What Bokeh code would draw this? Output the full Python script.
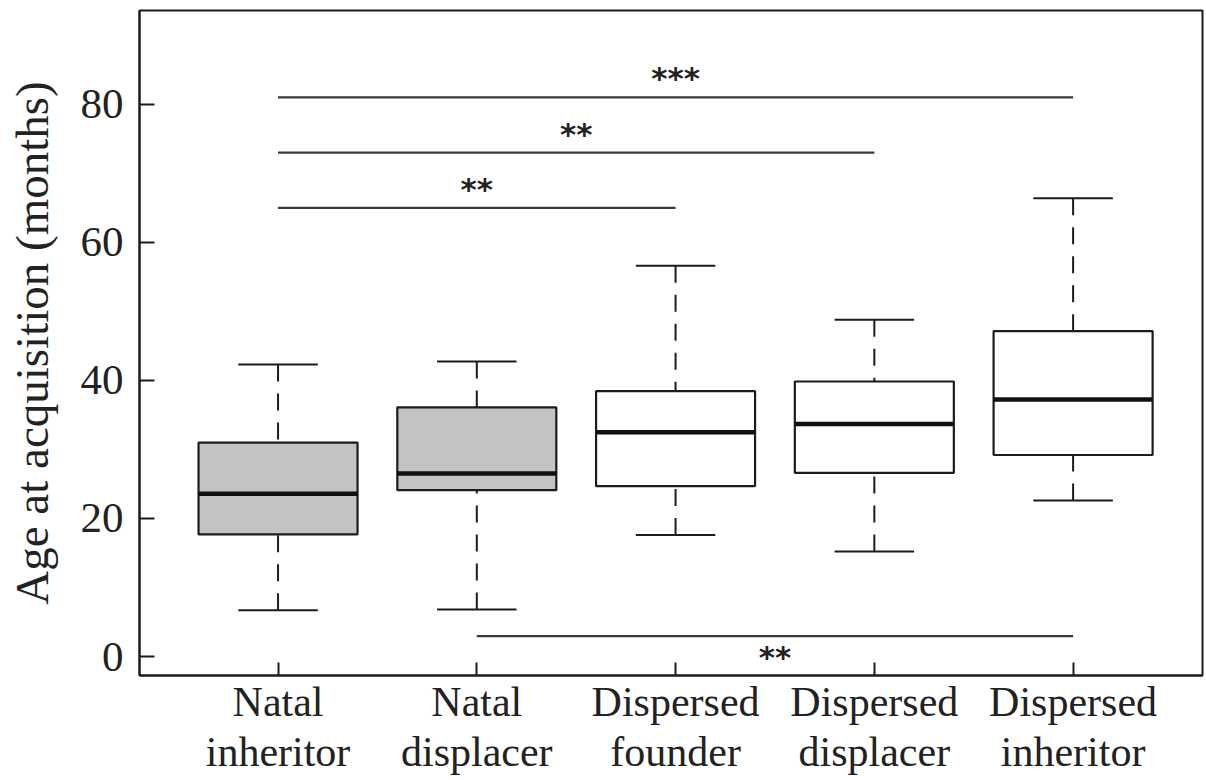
from bokeh.plotting import figure
from bokeh.models import ColumnDataSource, FixedTicker, Range1d
from bokeh.embed import file_html
from bokeh.resources import INLINE
from bokeh.core.properties import value

# ---- data ----
categories = ["Natal\ninheritor", "Natal\ndisplacer", "Dispersed\nfounder",
              "Dispersed\ndisplacer", "Dispersed\ninheritor"]
origin = ["Natal", "Natal", "Dispersed", "Dispersed", "Dispersed"]
lower_whisker = [6.7, 6.8, 17.6, 15.2, 22.6]
q1 = [17.7, 24.1, 24.7, 26.6, 29.2]
median = [23.6, 26.5, 32.5, 33.7, 37.25]
q3 = [31.0, 36.1, 38.45, 39.85, 47.15]
upper_whisker = [42.3, 42.75, 56.6, 48.8, 66.4]

# significance brackets: from group index, to group index, level, label
sig_from = [0, 0, 0, 1]
sig_to = [4, 3, 2, 4]
sig_level = [81.0, 73.0, 65.0, 2.95]
sig_label = ["***", "**", "**", "**"]
sig_side = ["above", "above", "above", "below"]

y_ticks = [0, 20, 40, 60, 80]

# ---- styling ----
FILL = {"Natal": "#c3c3c5", "Dispersed": "#ffffff"}
INK = "#1c1c1c"
SERIF = "Liberation Serif"
BOX_W = 0.8
CAP_HALF = 0.2

xs = list(range(1, len(categories) + 1))
src = ColumnDataSource(dict(
    x=xs, lw=lower_whisker, q1=q1, med=median, q3=q3, uw=upper_whisker,
    fill=[FILL[o] for o in origin],
    cap0=[x - CAP_HALF for x in xs], cap1=[x + CAP_HALF for x in xs],
    m0=[x - BOX_W / 2 for x in xs], m1=[x + BOX_W / 2 for x in xs],
))

p = figure(width=1204, height=778, output_backend="svg", toolbar_location=None,
           x_range=Range1d(0.303, 5.651), y_range=Range1d(-2.75, 93.6),
           min_border_left=139, min_border_top=10, min_border_right=2,
           min_border_bottom=90)
p.background_fill_color = "white"
p.border_fill_color = "white"
p.outline_line_color = INK
p.outline_line_width = 2
p.xgrid.visible = False
p.ygrid.visible = False

# whiskers (dashed), drawn from the cap toward the box
p.segment(x0="x", y0="uw", x1="x", y1="q3", source=src, line_color=INK,
          line_width=2, line_dash="17 12")
p.segment(x0="x", y0="lw", x1="x", y1="q1", source=src, line_color=INK,
          line_width=2, line_dash="17 12")
# caps
p.segment(x0="cap0", y0="uw", x1="cap1", y1="uw", source=src, line_color=INK, line_width=2)
p.segment(x0="cap0", y0="lw", x1="cap1", y1="lw", source=src, line_color=INK, line_width=2)
# boxes
p.vbar(x="x", width=BOX_W, bottom="q1", top="q3", source=src, fill_color="fill",
       line_color=INK, line_width=2.2)
# medians
p.segment(x0="m0", y0="med", x1="m1", y1="med", source=src, line_color="#111111",
          line_width=4.5)

# significance brackets
sig_src = ColumnDataSource(dict(
    x0=[xs[i] for i in sig_from], x1=[xs[j] for j in sig_to],
    y=sig_level, label=sig_label,
    xm=[(xs[i] + xs[j]) / 2 for i, j in zip(sig_from, sig_to)],
    off=[-19 if s == "above" else 21 for s in sig_side],
))
p.segment(x0="x0", y0="y", x1="x1", y1="y", source=sig_src, line_color="#3a3a3a",
          line_width=2.2)
p.text(x="xm", y="y", text="label", source=sig_src, y_offset="off",
       text_font=value("DejaVu Sans"), text_font_style="bold",
       text_font_size="31px", text_align="center", text_baseline="alphabetic",
       text_color="#222222")

# axes
yax = p.yaxis[0]
yax.ticker = FixedTicker(ticks=y_ticks)
yax.major_tick_in = 15
yax.major_tick_out = 0
yax.minor_tick_line_color = None
yax.axis_line_width = 2
yax.axis_line_color = INK
yax.major_tick_line_width = 2
yax.major_tick_line_color = INK
yax.major_label_text_font = SERIF
yax.major_label_text_font_size = "43px"
yax.major_label_text_color = "#222222"
yax.major_label_standoff = 16
yax.axis_label = "Age at acquisition (months)"
yax.axis_label_text_font = SERIF
yax.axis_label_text_font_size = "47px"
yax.axis_label_text_font_style = "normal"
yax.axis_label_text_color = "#222222"
yax.axis_label_standoff = 20

xax = p.xaxis[0]
xax.ticker = FixedTicker(ticks=xs)
xax.major_label_overrides = {x: c for x, c in zip(xs, categories)}
xax.major_tick_in = 13
xax.major_tick_out = 0
xax.minor_tick_line_color = None
xax.axis_line_width = 2
xax.axis_line_color = INK
xax.major_tick_line_width = 2
xax.major_tick_line_color = INK
xax.major_label_text_font = SERIF
xax.major_label_text_font_size = "42px"
xax.major_label_text_color = "#222222"
xax.major_label_text_line_height = 1.1
xax.major_label_standoff = 3

open("out.html", "w").write(file_html(p, INLINE))
